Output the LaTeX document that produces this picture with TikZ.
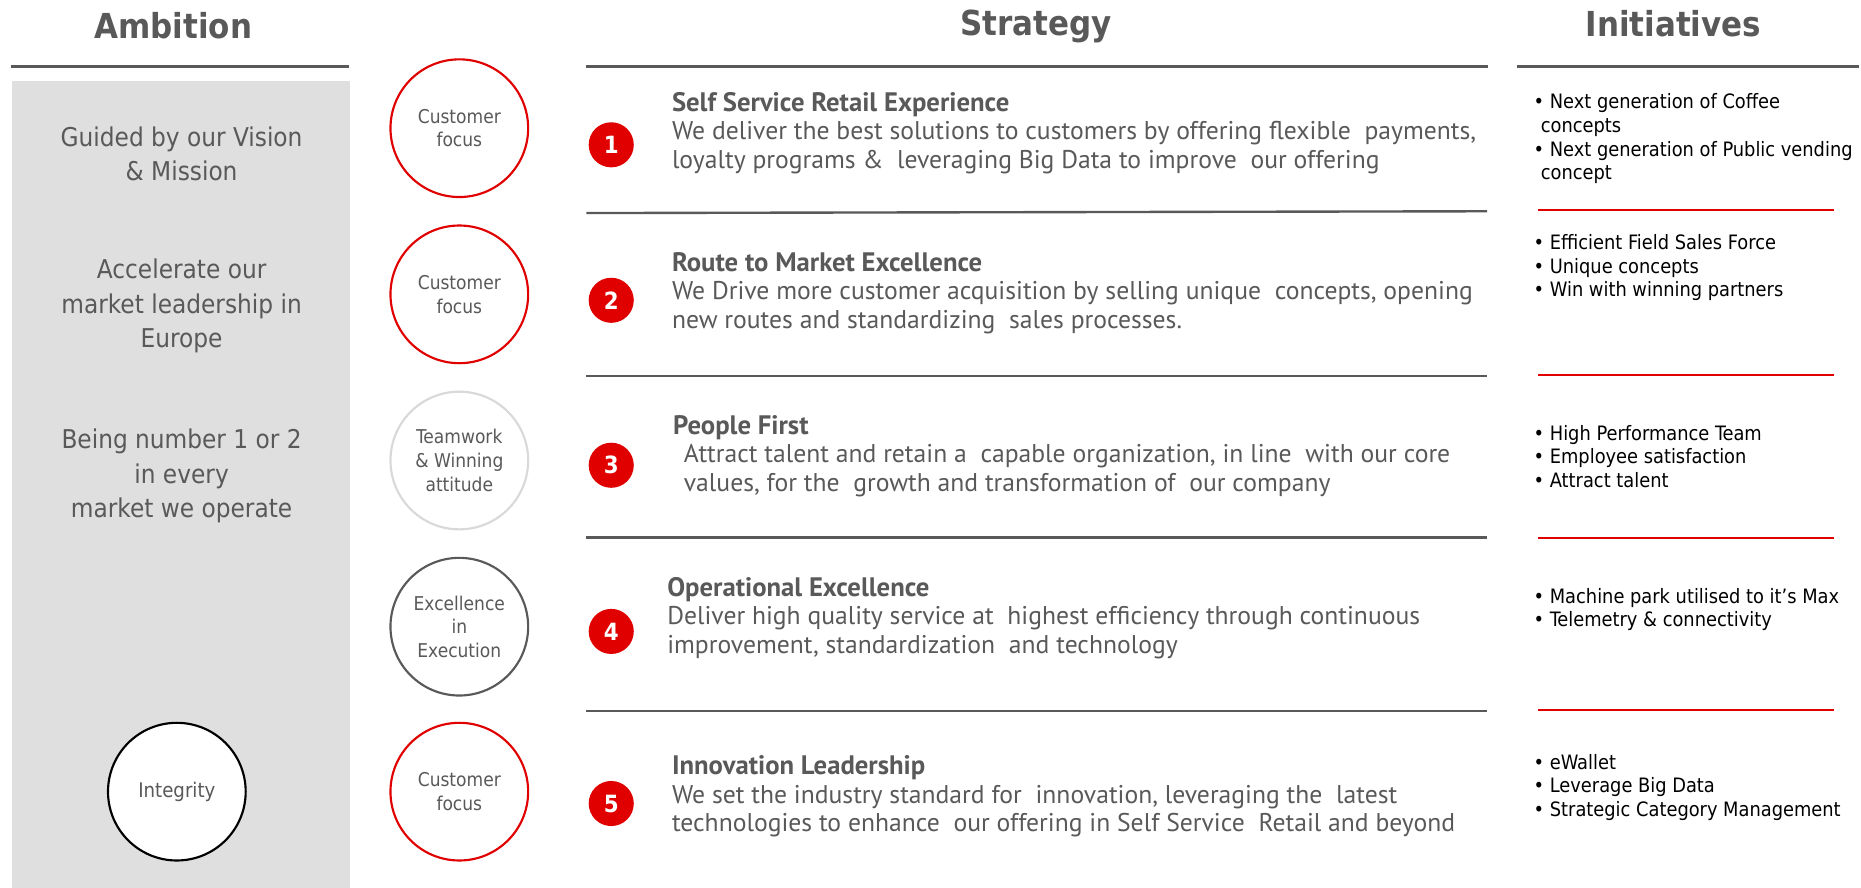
\documentclass[tikz,border=0pt]{standalone}
\usepackage{fontspec}
\setmainfont{DejaVu Sans Condensed}
\newfontfamily\stratfont{PT Sans}
\definecolor{txtgray}{HTML}{595959}
\definecolor{boxgray}{HTML}{DFDFDF}
\definecolor{brandred}{HTML}{E00000}
\definecolor{softgray}{HTML}{D9D9D9}
% bold heading line of a strategy pillar
\newcommand\pillartitle[1]{{\bfseries\fontsize{22.5}{24}\selectfont #1}}
\begin{document}
\begin{tikzpicture}[x=1pt,y=-1pt,
  hdr/.style={font=\bfseries\fontsize{29}{34}\selectfont, text=txtgray, inner sep=0},
  hline/.style={line width=2.5pt, draw=txtgray},
  sepline/.style={line width=2pt, draw=txtgray},
  redline/.style={line width=1.5pt, draw=brandred},
  ambtext/.style={font=\fontsize{21.8}{29}\selectfont, text=txtgray, align=center, inner sep=0},
  valuering/.style={circle, minimum size=116pt, inner sep=0, line width=1.8pt, fill=white,
    font=\fontsize{16}{20}\selectfont, text=txtgray, align=center},
  badge/.style={circle, fill=brandred, minimum size=38pt, inner sep=0, text=white,
    font=\bfseries\fontsize{20}{20}\selectfont},
  strat/.style={font=\stratfont\fontsize{21.6}{24}\selectfont, text=txtgray, align=left,
    anchor=west, inner sep=0},
  initlist/.style={font=\fontsize{16.7}{20}\selectfont, text=black, align=left,
    anchor=west, inner sep=0}]
\useasboundingbox (0,0) rectangle (1568,748);
\fill[white] (0,0) rectangle (1568,748);

% column headers and rules
\node[hdr] (hAmb) at (146,22) {Ambition};
\node[hdr] (hStr) at (873,22) {Strategy};
\node[hdr] (hIni) at (1410,20) {Initiatives};
\draw[hline] (9,56) -- (294,56);
\draw[hline] (494,56) -- (1254,56);
\draw[hline] (1278,56) -- (1566,56);

% ambition panel
\fill[boxgray] (10,68) rectangle (295,748);
\node[ambtext] (a1) at (153,129.5) {Guided by our Vision\\\& Mission};
\node[ambtext] (a2) at (153,258) {Accelerate our\\market leadership in\\Europe};
\node[ambtext] (a3) at (153,401) {Being number 1 or 2\\in every\\market we operate};
\node[valuering, draw=black, font=\fontsize{17}{20}\selectfont] (integ) at (149,667) {Integrity};

% value rings
\node[valuering, draw=brandred] (v1) at (387,108) {Customer\\focus};
\node[valuering, draw=brandred] (v2) at (387,248) {Customer\\focus};
\node[valuering, draw=softgray] (v3) at (387,388) {Teamwork\\\& Winning\\attitude};
\node[valuering, draw=txtgray] (v4) at (387,528) {Excellence\\in\\Execution};
\node[valuering, draw=brandred] (v5) at (387,667) {Customer\\focus};

% strategy separators
\draw[sepline] (494,179.5) -- (1253,178);
\draw[sepline] (494,317) -- (1253,317);
\draw[sepline] (494,453) -- (1253,453);
\draw[sepline] (494,599) -- (1253,599);

% numbered pillars
\node[badge] (n1) at (515,122) {1};
\node[badge] (n2) at (515,253) {2};
\node[badge] (n3) at (515,392) {3};
\node[badge] (n4) at (515,532) {4};
\node[badge] (n5) at (515,677) {5};

\node[strat] (s1) at (566,112) {\pillartitle{Self Service Retail Experience}\\
  We deliver the best solutions to customers by offering flexible~ payments,\\
  loyalty programs \&~ leveraging Big Data to improve~ our offering};
\node[strat] (s2) at (566,247) {\pillartitle{Route to Market Excellence}\\
  We Drive more customer acquisition by selling unique~ concepts, opening\\
  new routes and standardizing~ sales processes.};
\node[strat] (s3) at (567,384) {\pillartitle{People First}\\
  \hspace*{9pt}Attract talent and retain a~ capable organization, in line~ with our core\\
  \hspace*{9pt}values, for the~ growth and transformation of~ our company};
\node[strat] (s4) at (562,520.5) {\pillartitle{Operational Excellence}\\
  Deliver high quality service at~ highest efficiency through continuous\\
  improvement, standardization~ and technology};
\node[strat] (s5) at (566,671) {\pillartitle{Innovation Leadership}\\
  We set the industry standard for~ innovation, leveraging the~ latest\\
  technologies to enhance~ our offering in Self Service~ Retail and beyond};

% initiatives
\node[initlist] (i1) at (1292,117) {• Next generation of Coffee\\
  \hspace*{6pt}concepts\\• Next generation of Public vending\\\hspace*{6pt}concept};
\draw[redline] (1296,177) -- (1545,177);
\node[initlist] (i2) at (1292,225.5) {• Efficient Field Sales Force\\• Unique concepts\\• Win with winning partners};
\draw[redline] (1296,316) -- (1545,316);
\node[initlist] (i3) at (1292,384.5) {• High Performance Team\\• Employee satisfaction\\• Attract talent};
\draw[redline] (1296,453) -- (1545,453);
\node[initlist] (i4) at (1292,513.5) {• Machine park utilised to it’s Max\\• Telemetry \& connectivity};
\draw[redline] (1296,598) -- (1545,598);
\node[initlist] (i5) at (1292,663.5) {• eWallet\\• Leverage Big Data\\• Strategic Category Management};
\end{tikzpicture}
\end{document}
